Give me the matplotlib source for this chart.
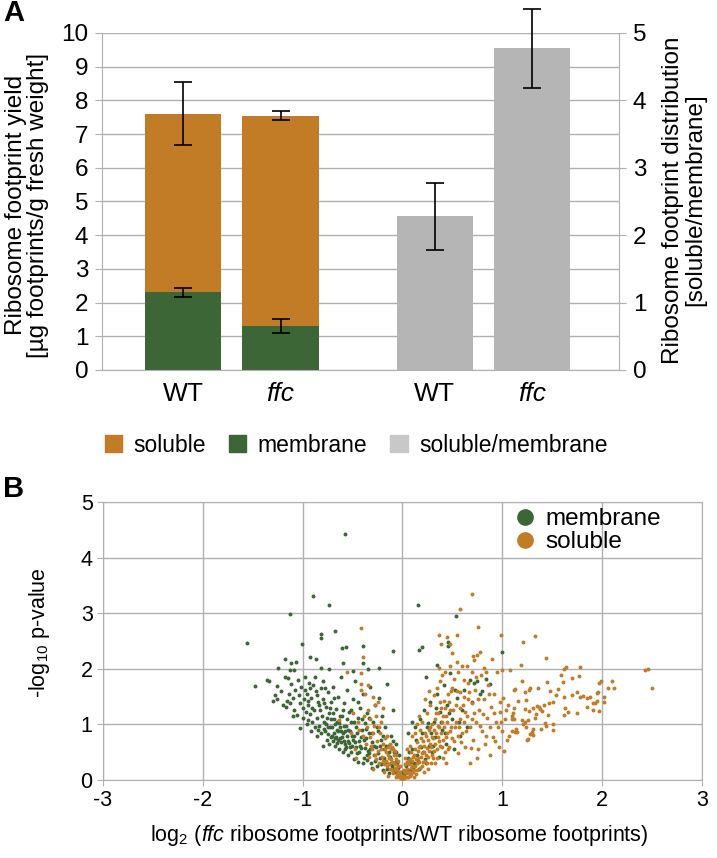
import matplotlib.pyplot as plt
from matplotlib.patches import Patch
from matplotlib.lines import Line2D
import numpy as np

plt.rcParams['font.family'] = ['Liberation Sans', 'DejaVu Sans']
plt.rcParams['mathtext.fontset'] = 'custom'
plt.rcParams['mathtext.rm'] = 'Liberation Sans'
plt.rcParams['mathtext.it'] = 'Liberation Sans:italic'
plt.rcParams['axes.unicode_minus'] = False

# ---- panel A data ----
genotypes = ['WT', 'ffc']
total_yield = [7.6, 7.55]          # soluble + membrane (top of stacked bar)
total_err = [0.93, 0.12]
membrane_yield = [2.3, 1.3]
membrane_err = [0.13, 0.2]
ratio = [2.28, 4.77]                # soluble/membrane
ratio_err = [0.5, 0.58]

# ---- panel B data (log2 fold change, -log10 p) ----
membrane_pts = [
    (-0.58, 4.42), (-0.90, 3.31), (-0.74, 3.15), (-1.13, 2.99), (-1.56, 2.47), (-1.01, 2.45),
    (-0.82, 2.62), (-0.82, 2.55), (-0.68, 2.68), (-0.61, 2.37), (-0.57, 2.39), (-0.40, 2.41),
    (-0.10, 2.32), (0.17, 2.34), (0.16, 3.15), (0.54, 2.95), (1.0, 2.3), (0.46, 2.48), (0.46, 2.41),
    (-1.18, 2.17), (-1.12, 2.11), (-1.07, 2.12), (-1.25, 2.01), (-1.13, 1.98), (-1.09, 1.98),
    (-0.93, 2.21), (-0.87, 2.17), (-0.82, 2.01), (-0.74, 2.0), (-0.60, 2.1), (-0.50, 1.96),
    (-0.40, 2.1), (-0.35, 2.0), (-0.24, 2.01),
    (-1.48, 1.69), (-1.36, 1.80), (-1.34, 1.78), (-1.26, 1.69), (-1.18, 1.85), (-1.15, 1.84),
    (-1.26, 1.46), (-1.16, 1.42), (-1.17, 1.31), (-1.09, 1.26), (-1.03, 0.94), (-1.06, 1.17), (-1.03, 1.38),
    (-0.98, 1.62), (-0.96, 1.55), (-0.99, 1.45), (-0.95, 1.35), (-0.97, 1.22), (-0.93, 1.18),
    (-0.95, 1.08), (-0.91, 1.30), (-0.90, 1.70), (-0.88, 1.86), (-0.86, 1.52), (-0.85, 1.40),
    (-0.86, 1.12), (-0.84, 0.98), (-0.83, 1.25), (-0.82, 1.65), (-0.80, 1.78), (-0.80, 1.45),
    (-0.79, 1.05), (-0.78, 0.88), (-0.77, 1.32), (-0.76, 0.72), (-0.75, 1.58), (-0.74, 1.20),
    (-0.73, 0.95), (-0.72, 1.40), (-0.71, 0.80), (-0.70, 1.68), (-0.69, 1.10), (-0.68, 0.62),
    (-0.67, 1.28), (-0.66, 0.90), (-0.65, 1.50), (-0.64, 1.02), (-0.63, 0.75), (-0.62, 1.85),
    (-0.61, 1.15), (-0.60, 0.85), (-0.59, 1.38), (-0.58, 0.55), (-0.57, 0.98), (-0.56, 1.62),
    (-0.55, 0.70), (-0.54, 1.22), (-0.53, 0.88), (-0.52, 1.05), (-0.51, 0.62), (-0.50, 1.45),
    (-0.49, 0.80), (-0.48, 1.78), (-0.47, 0.95), (-0.46, 0.48), (-0.45, 1.12), (-0.44, 0.70),
    (-0.43, 1.30), (-0.42, 0.58), (-0.41, 0.90), (-0.40, 1.55), (-0.39, 0.40), (-0.38, 1.02),
    (-0.37, 0.75), (-0.36, 1.20), (-0.35, 0.52), (-0.34, 0.85), (-0.33, 1.68), (-0.32, 0.30),
    (-0.31, 0.68), (-0.30, 1.05), (-0.29, 0.45), (-0.28, 1.35), (-0.27, 0.60), (-0.26, 0.25),
    (-0.25, 0.88), (-0.24, 1.48), (-0.23, 0.40), (-0.22, 0.72), (-0.21, 1.15), (-0.20, 0.18),
    (-0.19, 0.55), (-0.18, 0.95), (-0.17, 0.32), (-0.16, 1.72), (-0.15, 0.62), (-0.14, 0.12),
    (-0.13, 0.42), (-0.12, 0.80), (-0.11, 0.25), (-0.10, 1.25), (-0.09, 0.50), (-0.08, 0.15),
    (-0.07, 0.35), (-0.06, 0.65), (-0.05, 0.08), (-0.04, 0.22), (-0.03, 0.45), (-0.02, 0.05),
    (-0.01, 0.15),
    (-0.92, 0.88), (-0.88, 0.95), (-0.86, 0.80), (-0.82, 0.85), (-0.80, 0.62), (-0.79, 0.92),
    (-0.77, 1.00), (-0.75, 0.82), (-0.74, 0.64), (-0.72, 1.10), (-0.71, 0.95), (-0.70, 0.70),
    (-0.69, 0.85), (-0.68, 1.00), (-0.67, 0.78), (-0.66, 0.66), (-0.65, 0.88), (-0.64, 0.55),
    (-0.63, 0.95), (-0.62, 0.68), (-0.61, 0.78), (-0.60, 0.50), (-0.59, 0.70), (-0.58, 0.88),
    (-0.57, 0.60), (-0.56, 0.80), (-0.55, 0.45), (-0.54, 0.66), (-0.52, 0.50), (-0.50, 0.72),
    (-0.49, 0.38), (-0.47, 0.60), (-0.45, 0.32), (-0.44, 0.50), (-0.42, 0.78), (-0.40, 0.30),
    (-0.38, 0.58), (-0.36, 0.36), (-0.34, 0.48), (-0.31, 0.22),
    (-1.22, 1.60), (-1.20, 1.35), (-1.14, 1.55), (-1.12, 1.72), (-1.10, 1.48), (-1.08, 1.62),
    (-1.05, 1.80), (-1.04, 1.52), (-1.02, 1.68), (-1.00, 1.30), (-0.98, 1.85), (-0.94, 1.75),
    (-0.92, 1.48), (-1.10, 1.15), (-1.13, 1.38), (-1.00, 1.12), (-0.96, 1.00), (-1.28, 1.52),
    (-1.30, 1.42),
    (-0.95, 1.42), (-0.93, 1.65), (-0.91, 1.05), (-0.89, 1.25), (-0.87, 1.60), (-0.85, 0.90),
    (-0.84, 1.35), (-0.81, 1.15), (-0.79, 1.38), (-0.78, 1.65), (-0.76, 1.12), (-0.75, 0.95),
    (-0.73, 1.30), (-0.72, 0.78), (-0.70, 1.20), (-0.69, 1.48), (-0.68, 0.75), (-0.66, 1.05),
    (-0.65, 0.72), (-0.63, 1.15), (-0.62, 0.88), (-0.60, 1.25), (-0.59, 0.98), (-0.58, 0.65),
    (-0.56, 1.10), (-0.55, 0.90), (-0.53, 0.60), (-0.52, 1.25), (-0.51, 0.80), (-0.49, 1.05),
    (-0.48, 0.68), (-0.46, 0.85), (-0.45, 1.40), (-0.43, 0.62), (-0.41, 1.10), (-0.39, 0.72),
    (-0.37, 0.92), (-0.36, 0.45), (-0.34, 1.12), (-0.33, 0.55), (-0.31, 0.85), (-0.29, 0.62),
    (-0.28, 0.35), (-0.26, 0.95), (-0.25, 0.48), (-0.23, 0.62), (-0.22, 0.28), (-0.20, 0.80),
    (-0.19, 0.40), (-0.17, 0.62), (-0.16, 0.20), (-0.14, 0.50), (-0.12, 0.30), (-0.10, 0.70),
    (-0.09, 0.20), (-0.07, 0.50), (-0.05, 0.30), (-0.04, 0.12),
    (0.02, 0.10), (0.04, 0.25), (0.06, 0.40), (0.08, 0.18), (0.10, 0.55), (0.12, 0.30),
    (0.14, 0.72), (0.15, 0.45), (0.17, 0.20), (0.18, 1.10), (0.19, 0.60), (0.20, 0.85),
    (0.22, 1.25), (0.23, 0.38), (0.25, 0.95), (0.27, 0.62), (0.28, 1.40), (0.30, 0.50),
    (0.32, 1.05), (0.33, 0.78), (0.35, 1.55), (0.37, 0.42), (0.38, 1.22), (0.40, 0.90),
    (0.42, 1.70), (0.44, 0.65), (0.45, 1.35), (0.48, 1.92), (0.50, 1.10), (0.52, 0.55),
    (0.55, 1.48), (0.58, 0.80), (0.60, 1.25), (0.62, 1.62), (0.65, 0.95), (0.68, 1.80),
    (0.70, 1.40), (0.72, 1.75), (0.75, 1.78), (0.78, 1.55), (0.80, 1.60), (0.84, 1.82),
    (0.88, 1.72), (0.26, 1.02), (0.20, 2.40), (0.24, 1.85), (0.35, 2.07), (0.06, 0.85),
    (0.10, 1.05), (0.09, 0.32),
    (0.05, 0.15), (0.07, 0.50), (0.11, 0.22), (0.13, 0.95), (0.16, 0.35), (0.21, 0.50),
    (0.24, 0.30), (0.29, 0.85), (0.31, 0.62), (0.34, 1.30), (0.39, 1.05), (0.43, 0.85),
    (0.47, 1.20), (0.53, 1.62), (0.57, 1.05),
]

soluble_pts = [
    (-0.56, 1.95), (-0.42, 1.62), (-0.38, 1.55), (-0.30, 1.50), (-0.28, 1.35), (-0.50, 1.20),
    (-0.45, 1.05), (-0.35, 1.25), (-0.33, 1.10), (-0.25, 1.40), (-0.22, 1.05), (-0.20, 1.30),
    (-0.52, 0.85), (-0.48, 0.55), (-0.40, 0.80), (-0.36, 0.95), (-0.32, 0.62), (-0.30, 0.85),
    (-0.28, 0.45), (-0.26, 0.70), (-0.24, 0.95), (-0.22, 0.55), (-0.20, 0.35), (-0.18, 0.75),
    (-0.17, 0.50), (-0.16, 0.25), (-0.15, 0.60), (-0.14, 0.40), (-0.13, 0.20), (-0.12, 0.55),
    (-0.11, 0.32), (-0.10, 0.12), (-0.09, 0.45), (-0.08, 0.28), (-0.07, 0.18), (-0.06, 0.38),
    (-0.05, 0.10), (-0.04, 0.25), (-0.03, 0.05), (-0.02, 0.15), (-0.01, 0.03), (-0.42, 1.72),
    (-0.64, 1.08), (-0.47, 0.40), (-0.24, 0.30), (-0.19, 0.15), (-0.15, 0.08), (-0.11, 0.60),
    (-0.08, 0.52), (-0.06, 0.22), (-0.35, 1.70), (-0.27, 1.15), (-0.34, 0.42), (-0.30, 0.20),
    (-0.42, 2.73), (-0.40, 2.21), (-0.42, 1.92),
    (-0.01, 0.08), (-0.02, 0.25), (-0.03, 0.12), (-0.04, 0.35), (-0.05, 0.18), (-0.06, 0.05),
    (-0.07, 0.45), (-0.08, 0.20), (-0.09, 0.30), (-0.10, 0.55), (-0.11, 0.18), (-0.12, 0.38),
    (-0.13, 0.65), (-0.14, 0.28), (-0.15, 0.45), (-0.16, 0.80), (-0.17, 0.35), (-0.18, 0.55),
    (-0.19, 0.28), (-0.20, 0.65), (-0.21, 0.42), (-0.23, 0.85), (-0.25, 0.52), (-0.27, 0.38),
    (-0.29, 0.98), (-0.31, 0.55), (-0.33, 0.78), (-0.37, 0.65), (-0.39, 1.15), (-0.44, 0.90),
    (0.00, 0.02), (0.01, 0.08), (0.02, 0.04), (0.03, 0.15), (0.04, 0.06), (0.05, 0.20),
    (0.06, 0.12), (0.07, 0.28), (0.08, 0.08), (0.09, 0.22), (0.10, 0.35), (0.11, 0.15),
    (0.12, 0.45), (0.13, 0.25), (0.14, 0.38), (0.15, 0.18), (0.16, 0.52), (0.17, 0.32),
    (0.18, 0.62), (0.19, 0.42), (0.20, 0.25), (0.21, 0.70), (0.22, 0.50), (0.23, 0.35),
    (0.24, 0.80), (0.25, 0.58), (0.26, 0.42), (0.27, 0.90), (0.28, 0.65), (0.29, 0.30),
    (0.30, 1.00), (0.31, 0.75), (0.32, 0.52), (0.33, 1.10), (0.34, 0.85), (0.35, 0.40),
    (0.36, 1.20), (0.37, 0.95), (0.38, 0.62), (0.39, 1.30), (0.40, 1.05), (0.41, 0.72),
    (0.42, 1.42), (0.43, 0.50), (0.44, 1.15), (0.45, 0.85), (0.46, 1.55), (0.47, 0.60),
    (0.48, 1.25), (0.49, 0.95), (0.50, 1.65), (0.12, 0.05), (0.06, 0.35), (0.09, 0.50),
    (0.15, 0.68), (0.18, 0.90), (0.20, 1.05), (0.22, 0.15), (0.25, 1.20), (0.28, 1.35),
    (0.30, 0.45), (0.32, 1.52), (0.35, 1.65), (0.38, 1.78), (0.40, 1.88), (0.26, 0.20),
    (0.33, 0.30), (0.36, 0.78), (0.41, 0.40), (0.44, 0.30), (0.15, 1.00), (0.10, 0.80),
    (0.05, 0.55), (0.03, 0.40), (0.08, 0.62), (0.13, 0.85), (0.17, 1.15), (0.23, 1.45),
    (0.27, 1.60), (0.37, 2.02), (0.43, 1.95), (0.48, 2.05), (0.52, 1.82), (0.55, 2.12),
    (0.58, 1.58),
    (0.02, 0.18), (0.03, 0.28), (0.04, 0.12), (0.05, 0.32), (0.06, 0.05), (0.07, 0.15),
    (0.08, 0.38), (0.09, 0.10), (0.10, 0.25), (0.11, 0.42), (0.12, 0.18), (0.13, 0.55),
    (0.14, 0.10), (0.15, 0.30), (0.16, 0.40), (0.17, 0.60), (0.18, 0.22), (0.19, 0.75),
    (0.20, 0.48), (0.21, 0.32), (0.22, 0.62), (0.23, 0.85), (0.24, 0.45), (0.25, 0.30),
    (0.26, 0.72), (0.27, 0.52), (0.28, 0.95), (0.29, 0.60), (0.30, 0.78), (0.31, 0.40),
    (0.32, 0.90), (0.33, 0.65), (0.34, 1.20), (0.35, 0.55), (0.36, 0.98), (0.37, 0.70),
    (0.38, 1.40), (0.39, 0.85), (0.40, 0.60), (0.41, 1.15), (0.42, 0.95), (0.43, 1.30),
    (0.44, 0.78), (0.45, 1.05), (0.46, 0.55), (0.47, 1.40), (0.48, 0.88), (0.49, 1.60),
    (0.50, 0.75), (0.51, 1.25), (0.53, 0.95), (0.55, 1.60), (0.56, 0.80), (0.58, 1.10),
    (0.59, 0.68), (0.61, 1.35), (0.64, 0.88), (0.67, 1.58), (0.69, 0.58), (0.72, 1.20),
    (0.76, 1.45), (0.81, 1.18), (0.87, 1.55), (0.93, 0.70), (0.99, 1.05), (1.07, 0.80),
    (0.84, 1.95), (0.70, 1.95), (0.62, 1.80), (0.56, 1.95),
    (0.52, 0.70), (0.54, 1.05), (0.56, 0.48), (0.58, 1.30), (0.60, 0.85), (0.62, 1.50),
    (0.63, 0.60), (0.65, 1.15), (0.66, 1.75), (0.68, 0.95), (0.70, 1.38), (0.71, 0.72),
    (0.73, 1.62), (0.74, 1.05), (0.76, 0.55), (0.77, 1.25), (0.79, 1.88), (0.80, 0.88),
    (0.82, 1.45), (0.83, 0.65), (0.85, 1.12), (0.86, 1.70), (0.88, 0.95), (0.89, 1.32),
    (0.91, 0.78), (0.92, 1.55), (0.94, 1.05), (0.95, 1.95), (0.97, 0.60), (0.98, 1.22),
    (1.00, 0.88), (1.01, 1.48), (1.03, 1.10), (1.05, 0.72), (1.06, 1.35), (1.08, 1.98),
    (1.10, 1.15), (1.12, 1.62), (1.14, 0.92), (0.60, 2.05), (0.65, 2.05), (0.72, 2.15),
    (0.82, 2.02), (0.90, 2.18), (0.98, 1.40), (1.02, 0.52), (0.88, 0.45), (0.75, 0.40),
    (0.68, 0.30), (0.57, 0.95), (0.62, 1.05), (0.70, 1.10), (0.78, 0.98), (0.84, 0.80),
    (0.92, 1.20), (0.96, 0.95), (1.04, 1.25), (1.12, 1.30), (1.16, 1.42), (1.00, 1.98),
    (0.74, 1.85), (0.66, 1.45), (0.54, 1.35), (0.63, 1.22),
    (0.70, 3.35), (0.58, 3.08), (0.76, 2.75), (0.99, 2.61), (1.33, 2.59), (1.21, 2.48),
    (1.44, 2.19), (0.37, 2.61), (0.45, 2.58), (0.55, 2.61), (0.39, 2.45), (0.48, 2.44),
    (0.50, 2.28), (0.71, 2.23), (0.78, 2.30), (0.75, 2.25),
    (1.19, 2.07), (1.64, 2.04), (1.62, 2.00), (1.78, 2.03), (2.43, 1.98), (2.46, 2.00),
    (2.50, 1.65), (1.59, 1.88), (1.70, 1.84), (1.77, 1.87), (1.61, 1.76), (1.45, 1.76),
    (1.20, 1.78), (1.99, 1.78), (1.97, 1.75), (2.10, 1.78), (2.06, 1.66), (2.12, 1.66),
    (1.96, 1.58), (1.95, 1.57), (2.02, 1.49), (2.02, 1.41), (1.28, 1.65), (1.27, 1.61),
    (1.36, 1.66), (1.48, 1.60), (1.56, 1.63), (1.54, 1.53), (1.23, 1.58), (1.24, 1.44),
    (1.13, 1.63), (1.62, 1.50), (1.70, 1.53), (1.75, 1.58), (1.78, 1.49), (1.81, 1.51),
    (1.85, 1.48), (1.88, 1.49), (1.91, 1.39), (1.93, 1.38), (1.95, 1.42), (1.85, 1.31),
    (1.91, 1.26), (1.97, 1.24), (1.51, 1.41), (1.47, 1.38), (1.42, 1.35), (1.37, 1.31),
    (1.35, 1.33), (1.31, 1.30), (1.23, 1.28), (1.27, 1.24), (1.34, 1.19), (1.33, 1.12),
    (1.38, 1.28), (1.40, 1.24), (1.46, 1.17), (1.63, 1.30), (1.62, 1.17), (1.66, 1.22),
    (1.75, 1.21), (1.11, 1.21), (1.10, 1.10), (1.12, 1.10), (1.20, 1.08), (1.23, 1.05),
    (1.26, 1.07), (1.21, 1.01), (1.24, 0.95), (1.43, 1.02), (1.44, 0.98), (1.51, 1.01),
    (1.39, 0.91), (1.51, 0.90), (1.10, 0.88), (1.13, 0.87), (1.15, 0.87), (1.31, 0.91),
    (1.30, 0.87), (1.28, 0.82), (1.26, 0.74), (1.25, 0.72), (1.31, 0.81),
]

orange = '#C17C25'
green = '#3C6635'
grey = '#B5B5B5'
gridc = '#B0B0B0'

fig = plt.figure(figsize=(7.17, 8.58), dpi=100)

# ================= panel A =================
ax = fig.add_axes([0.1423, 0.5688, 0.721, 0.3928])
ax2 = ax.twinx()
xpos_left = np.array([0, 1])
xpos_right = np.array([2.58, 3.58])
bw = 0.78

ax.set_axisbelow(True)
ax.yaxis.grid(True, color=gridc, linewidth=1)
ax.bar(xpos_left, membrane_yield, bw, color=green, zorder=2)
soluble_part = [t - m for t, m in zip(total_yield, membrane_yield)]
ax.bar(xpos_left, soluble_part, bw, bottom=membrane_yield, color=orange, zorder=2)
ax.errorbar(xpos_left, total_yield, yerr=total_err, fmt='none', ecolor='black',
            elinewidth=1.2, capsize=6.5, capthick=1.2, zorder=3)
ax.errorbar(xpos_left, membrane_yield, yerr=membrane_err, fmt='none', ecolor='black',
            elinewidth=1.2, capsize=6.5, capthick=1.2, zorder=3)

ax2.bar(xpos_right, ratio, bw, color=grey, zorder=2)
eb = ax2.errorbar(xpos_right, ratio, yerr=ratio_err, fmt='none', ecolor='black',
                  elinewidth=1.2, capsize=6.5, capthick=1.2, zorder=3)
for art in list(eb.lines[1]) + list(eb.lines[2]):
    art.set_clip_on(False)

ax.set_xlim(-0.83, 4.47)
ax.set_ylim(0, 10)
ax2.set_ylim(0, 5)
ax.set_yticks(range(0, 11))
ax2.set_yticks(range(0, 6))
ax.set_xticks(list(xpos_left) + list(xpos_right))
ax.set_xticklabels(genotypes + genotypes)
for i, lab in enumerate(ax.get_xticklabels()):
    if i % 2 == 1:
        lab.set_fontstyle('italic')
ax.tick_params(axis='x', length=0, labelsize=19, pad=9)
ax.tick_params(axis='y', labelsize=17.5, color=gridc, length=5, pad=5)
ax2.tick_params(axis='y', labelsize=17.5, color=gridc, length=5, pad=5)
for a in (ax, ax2):
    a.spines['top'].set_visible(False)
    for s in ('left', 'right', 'bottom'):
        a.spines[s].set_color(gridc)
ax.spines['right'].set_visible(False)
ax2.spines['left'].set_visible(False)
ax2.spines['bottom'].set_visible(False)

fig.text(27 / 717, 1 - 205 / 858, 'Ribosome footprint yield\n[µg footprints/g fresh weight]',
         rotation=90, ha='center', va='center', fontsize=17.5, linespacing=1.0)
fig.text(684 / 717, 1 - 200 / 858, 'Ribosome footprint distribution\n[soluble/membrane]',
         rotation=90, ha='center', va='center', fontsize=17.5, linespacing=1.0)

handles = [Patch(color=orange, label='soluble'), Patch(color=green, label='membrane'),
           Patch(color='#C8C8C8', label='soluble/membrane')]
fig.legend(handles=handles, loc='center', bbox_to_anchor=(0.497, 0.481), ncol=3,
           frameon=False, fontsize=16.5, handlelength=0.75, handleheight=0.75,
           handletextpad=0.5, columnspacing=1.0)

fig.text(0.004, 0.985, 'A', fontsize=21, fontweight='bold', va='center', ha='left')

# ================= panel B =================
bx = fig.add_axes([0.1437, 0.0909, 0.8353, 0.3241])
mx, my = zip(*membrane_pts)
sx, sy = zip(*soluble_pts)
bx.set_axisbelow(True)
bx.grid(True, color=gridc, linewidth=1)
bx.scatter(mx, my, s=8, color=green, linewidths=0, zorder=2)
bx.scatter(sx, sy, s=8, color=orange, linewidths=0, zorder=3)
bx.set_xlim(-3, 3)
bx.set_ylim(0, 5)
bx.set_xticks(range(-3, 4))
bx.set_yticks(range(0, 6))
bx.tick_params(labelsize=15.5, color=gridc, length=4)
for s in bx.spines.values():
    s.set_color(gridc)
fig.text(40 / 717, 1 - 633 / 858, '-log$_{10}$ p-value', rotation=90, ha='center',
         va='center', fontsize=15.5)
fig.text(399 / 717, 1 - 836 / 858,
         'log$_2$ ($\\mathit{ffc}$ ribosome footprints/WT ribosome footprints)',
         ha='center', va='center', fontsize=15.5)

leg_handles = [Line2D([], [], marker='o', ls='', color=green, markersize=11, label='membrane'),
               Line2D([], [], marker='o', ls='', color=orange, markersize=11, label='soluble')]
bx.legend(handles=leg_handles, loc='upper left', bbox_to_anchor=(0.66, 1.03), frameon=False,
          fontsize=17.5, handlelength=1.0, handletextpad=0.35, labelspacing=0.05,
          borderaxespad=0.2)

fig.text(0.004, 0.43, 'B', fontsize=21, fontweight='bold', va='center', ha='left')

fig.savefig('out.png', dpi=100)
